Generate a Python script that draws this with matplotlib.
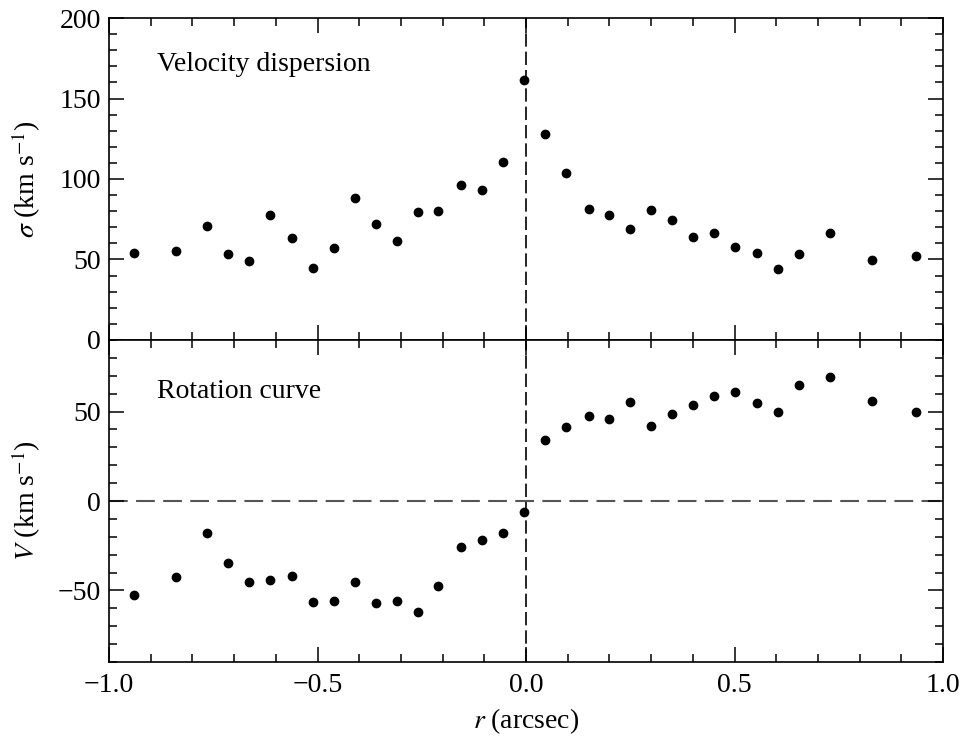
import matplotlib
matplotlib.use("Agg")
import matplotlib.pyplot as plt
from matplotlib.ticker import MultipleLocator

plt.rcParams['font.family'] = ['Liberation Serif', 'DejaVu Serif']
plt.rcParams['mathtext.fontset'] = 'stix'
plt.rcParams['axes.unicode_minus'] = True

r = [-0.94, -0.84, -0.765, -0.715, -0.665, -0.615, -0.56, -0.51, -0.46, -0.41,
     -0.36, -0.31, -0.26, -0.21, -0.155, -0.105, -0.055, -0.005, 0.045, 0.095,
     0.15, 0.2, 0.25, 0.3, 0.35, 0.4, 0.45, 0.5, 0.555, 0.605, 0.655, 0.73,
     0.83, 0.935]
sigma = [54.2, 55.3, 70.6, 53.6, 48.9, 77.6, 63.5, 44.9, 57.0, 88.0,
         72.2, 61.5, 79.3, 80.3, 96.5, 93.4, 110.4, 161.5, 128.1, 103.7,
         81.4, 77.6, 68.9, 80.9, 74.3, 63.8, 66.3, 57.6, 54.2, 43.9,
         53.6, 66.3, 49.5, 52.2]
vel = [-52.4, -42.5, -17.7, -34.9, -45.3, -44.2, -41.8, -56.5, -55.8, -45.1,
       -57.1, -55.8, -62.1, -47.4, -25.9, -21.6, -17.7, -5.9, 34.1, 41.1,
       47.4, 45.7, 55.2, 41.8, 48.9, 53.6, 58.6, 61.0, 54.8, 49.8,
       64.6, 69.4, 55.8, 49.6]

FS = 20
fig = plt.figure(figsize=(9.63, 7.36), dpi=100)
W, H = 963, 736
left, right = 109 / W, 943 / W
ax1 = fig.add_axes([left, 1 - 340 / H, right - left, (340 - 18) / H])
ax2 = fig.add_axes([left, 1 - 662 / H, right - left, (662 - 340) / H], sharex=ax1)

for ax in (ax1, ax2):
    ax.tick_params(which='both', direction='in', top=True, right=True,
                   labelsize=FS, width=1.1)
    ax.tick_params(which='major', length=11)
    ax.tick_params(which='minor', length=6)
    ax.xaxis.set_major_locator(MultipleLocator(0.5))
    ax.xaxis.set_minor_locator(MultipleLocator(0.1))
    ax.yaxis.set_major_locator(MultipleLocator(50))
    ax.yaxis.set_minor_locator(MultipleLocator(10))
    for s in ax.spines.values():
        s.set_linewidth(1.2)
    ax.axvline(0, color='black', lw=1.2, dashes=(8, 3), zorder=1)

ax1.plot(r, sigma, 'o', color='black', ms=6, zorder=3)
ax1.set_xlim(-1, 1)
ax1.set_ylim(0, 200)
ax1.tick_params(labelbottom=False)
ax1.set_ylabel(r'$\sigma$ (km s$^{-1}$)', fontsize=FS)
ax1.yaxis.set_label_coords(-0.079, 0.5)
ax1.text(0.058, 0.855, 'Velocity dispersion', transform=ax1.transAxes,
         fontsize=FS, va='center', ha='left')

ax2.plot(r, vel, 'o', color='black', ms=6, zorder=3)
ax2.axhline(0, color='#555555', lw=1.5, dashes=(9, 4), zorder=1)
ax2.set_ylim(-90, 90)
ax2.set_ylabel(r'$V$ (km s$^{-1}$)', fontsize=FS)
ax2.yaxis.set_label_coords(-0.079, 0.5)
ax2.set_xlabel(r'$r$ (arcsec)', fontsize=FS, labelpad=6)
ax2.text(0.058, 0.84, 'Rotation curve', transform=ax2.transAxes,
         fontsize=FS, va='center', ha='left')

ax2.xaxis.set_tick_params(pad=8)
ax1.yaxis.set_tick_params(pad=6)
ax2.yaxis.set_tick_params(pad=6)

fig.savefig('out.png', dpi=100)
